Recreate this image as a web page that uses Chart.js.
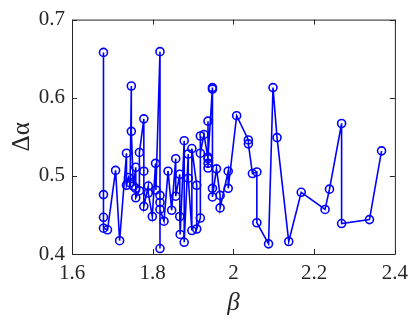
<!DOCTYPE html>
<html>
<head>
<meta charset="utf-8">
<script src="https://cdn.jsdelivr.net/npm/chart.js@4"></script>
<style>
  html, body { margin: 0; padding: 0; background: #fff; }
  #wrap { width: 415px; height: 321px; }
</style>
</head>
<body>
<div id="wrap"><canvas id="chart"></canvas></div>
<script>
const betaValues = [
  1.678, 1.678, 1.678, 1.678, 1.688, 1.708, 1.718, 1.735, 1.735, 1.740,
  1.744, 1.747, 1.747, 1.752, 1.758, 1.758, 1.758, 1.767, 1.767, 1.778,
  1.778, 1.778, 1.789, 1.789, 1.799, 1.807, 1.808, 1.818, 1.818, 1.818,
  1.818, 1.818, 1.828, 1.838, 1.847, 1.857, 1.857, 1.867, 1.867, 1.868,
  1.878, 1.878, 1.888, 1.888, 1.897, 1.897, 1.909, 1.909, 1.918, 1.918,
  1.918, 1.927, 1.937, 1.937, 1.937, 1.937, 1.937, 1.948, 1.948, 1.948,
  1.948, 1.958, 1.967, 1.967, 1.987, 1.987, 2.008, 2.037, 2.037, 2.047,
  2.058, 2.058, 2.087, 2.098, 2.108, 2.137, 2.168, 2.227, 2.238, 2.268,
  2.268, 2.337, 2.367
];

const deltaAlphaValues = [
  0.476, 0.658, 0.447, 0.433, 0.431, 0.507, 0.417, 0.529, 0.488, 0.498,
  0.491, 0.615, 0.557, 0.487, 0.511, 0.484, 0.472, 0.481, 0.530, 0.573,
  0.506, 0.461, 0.487, 0.478, 0.448, 0.516, 0.482, 0.659, 0.407, 0.475,
  0.466, 0.457, 0.442, 0.506, 0.456, 0.522, 0.474, 0.502, 0.448, 0.425,
  0.545, 0.415, 0.528, 0.497, 0.430, 0.535, 0.488, 0.432, 0.446, 0.551,
  0.529, 0.553, 0.522, 0.570, 0.516, 0.510, 0.524, 0.613, 0.611, 0.484,
  0.473, 0.509, 0.475, 0.459, 0.506, 0.484, 0.577, 0.546, 0.541, 0.503,
  0.505, 0.440, 0.413, 0.613, 0.549, 0.416, 0.479, 0.457, 0.483, 0.567,
  0.439, 0.444, 0.532
];

const xTicks = [1.6, 1.8, 2.0, 2.2, 2.4];
const yTicks = [0.4, 0.5, 0.6, 0.7];

const points = betaValues.map((b, i) => ({ x: b, y: deltaAlphaValues[i] }));

// MATLAB-like box with inward ticks on all four sides
const boxPlugin = {
  id: 'box',
  afterDatasetsDraw(chart) {
    const { ctx, chartArea: a, scales } = chart;
    const len = 5;
    ctx.save();
    ctx.strokeStyle = '#262626';
    ctx.lineWidth = 1;
    ctx.beginPath();
    ctx.rect(a.left + 0.5, a.top + 0.5, a.right - a.left, a.bottom - a.top);
    xTicks.forEach(v => {
      const px = Math.round(scales.x.getPixelForValue(v)) + 0.5;
      ctx.moveTo(px, a.bottom); ctx.lineTo(px, a.bottom - len);
      ctx.moveTo(px, a.top); ctx.lineTo(px, a.top + len);
    });
    yTicks.forEach(v => {
      const py = Math.round(scales.y.getPixelForValue(v)) + 0.5;
      ctx.moveTo(a.left, py); ctx.lineTo(a.left + len, py);
      ctx.moveTo(a.right, py); ctx.lineTo(a.right - len, py);
    });
    ctx.stroke();
    ctx.restore();
  }
};

const serif = '"Liberation Serif", "Times New Roman", serif';

new Chart(document.getElementById('chart'), {
  type: 'line',
  data: {
    datasets: [{
      data: points,
      borderColor: '#0000ff',
      borderWidth: 1.6,
      pointRadius: 4,
      pointBorderWidth: 1.6,
      pointBorderColor: '#0000ff',
      pointBackgroundColor: 'rgba(0,0,0,0)',
      tension: 0,
      clip: false
    }]
  },
  options: {
    responsive: true,
    maintainAspectRatio: false,
    animation: false,
    layout: { padding: { left: 0, top: 10, right: 16, bottom: 0 } },
    plugins: {
      legend: { display: false },
      tooltip: { enabled: false }
    },
    scales: {
      x: {
        type: 'linear',
        min: 1.6,
        max: 2.4,
        afterBuildTicks: scale => { scale.ticks = xTicks.map(v => ({ value: v })); },
        afterFit: scale => { scale.height = 67; },
        grid: { display: false, drawTicks: false },
        border: { display: false },
        ticks: {
          padding: 7,
          color: '#262626',
          font: { family: serif, size: 21 },
          callback: v => String(Math.round(v * 10) / 10)
        },
        title: {
          display: true,
          text: 'β',
          color: '#262626',
          font: { family: serif, size: 25, style: 'italic' },
          padding: { top: 0, bottom: 3 }
        }
      },
      y: {
        type: 'linear',
        min: 0.4,
        max: 0.7,
        afterBuildTicks: scale => { scale.ticks = yTicks.map(v => ({ value: v })); },
        afterFit: scale => { scale.width = 72; },
        grid: { display: false, drawTicks: false },
        border: { display: false },
        ticks: {
          padding: 7,
          color: '#262626',
          font: { family: serif, size: 21 },
          callback: v => v.toFixed(1)
        },
        title: {
          display: true,
          text: 'Δα',
          color: '#262626',
          font: { family: serif, size: 25 },
          padding: { top: 7, bottom: 0 }
        }
      }
    }
  },
  plugins: [boxPlugin]
});
</script>
</body>
</html>
